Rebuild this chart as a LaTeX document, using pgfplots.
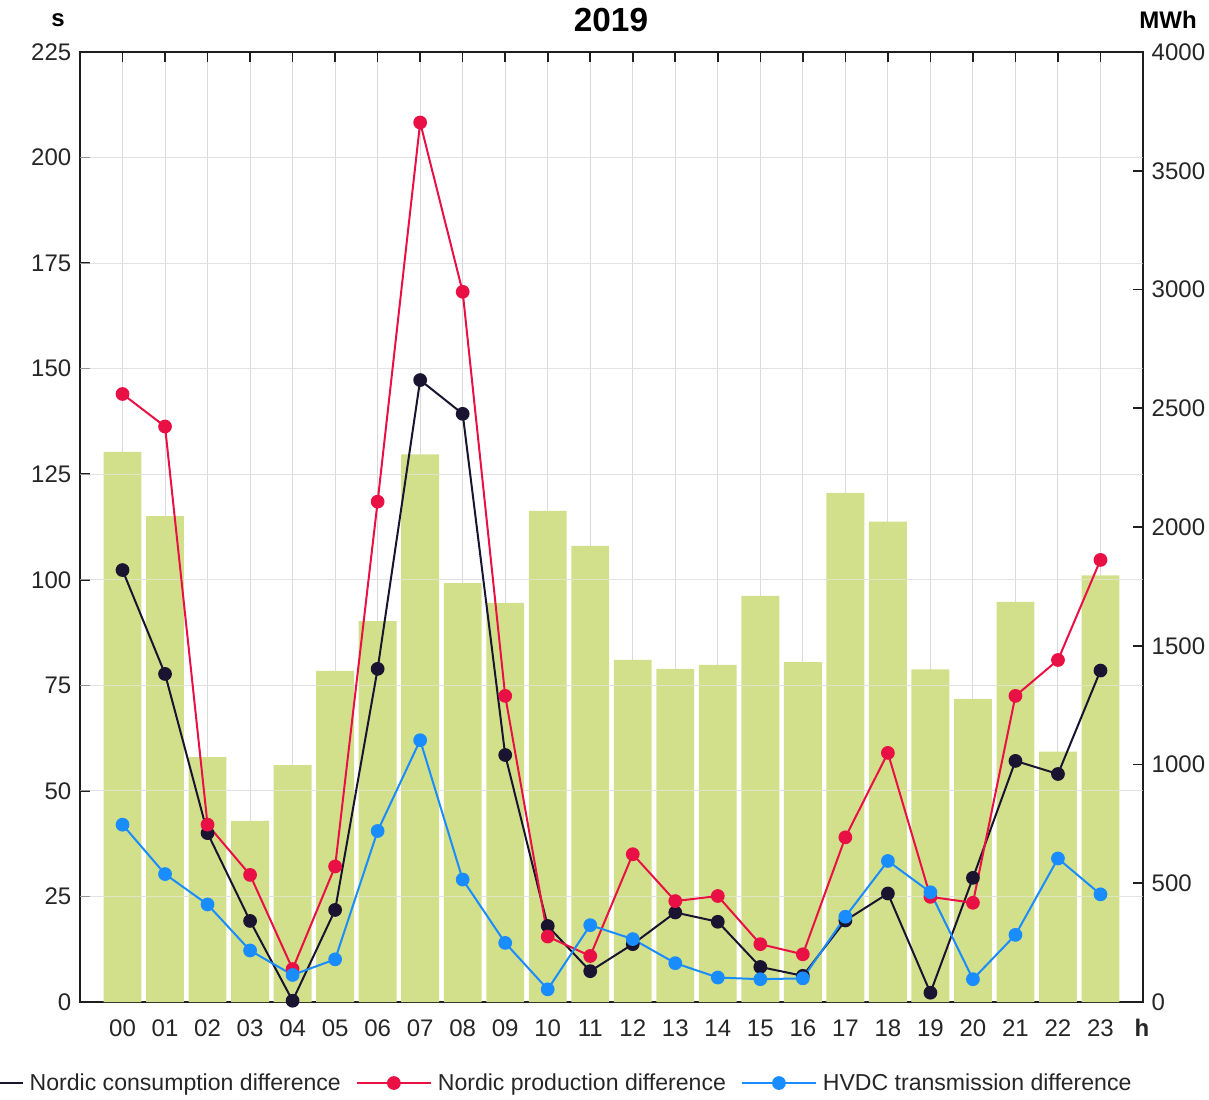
\documentclass[border=0pt]{standalone}
\usepackage{fontspec}
\setmainfont{Liberation Sans}
\usepackage{pgfplots}
\pgfplotsset{compat=1.18}
\definecolor{barc}{RGB}{210,224,140}
\definecolor{cblack}{RGB}{26,20,48}
\definecolor{cred}{RGB}{232,16,68}
\definecolor{cblue}{RGB}{25,140,255}
\definecolor{gridc}{RGB}{218,218,218}
\definecolor{axc}{RGB}{30,30,30}
\begin{document}
\begin{tikzpicture}
\pgfplotsset{
  common/.style={
    width=797.25pt, height=712.5pt, scale only axis,
    at={(0,0)}, anchor=south west,
    xmin=-1, xmax=24,
    /pgf/number format/assume math mode=true,
    /pgf/number format/1000 sep={},
    tick label style={font=\fontsize{18}{20}\selectfont, color=black!85},
    axis line style={line width=1.2pt, axc},
    tick style={line width=1.2pt, axc},
    major tick length=7.5pt,
    tick align=inside,
  }
}
% axis 1: frame, grid, left ticks, x ticks
\begin{axis}[common,
  ymin=0, ymax=225, ytick={0,25,...,225},
  xtick={0,...,23},
  xticklabels={00,01,02,03,04,05,06,07,08,09,10,11,12,13,14,15,16,17,18,19,20,21,22,23},
  xtick pos=both, ytick pos=left,
  xticklabel style={yshift=-10pt},
  yticklabel style={xshift=-3pt},
  grid=major, grid style={gridc, line width=0.75pt},
]
\addplot[draw=none] coordinates {(0,0)};
\end{axis}
% axis 2: bars on the right axis (MWh)
\begin{axis}[common,
  ymin=0, ymax=4000, ytick={0,500,...,4000},
  axis y line*=right, axis x line=none,
  yticklabel style={xshift=3pt},
]
\addplot[ybar, bar width=0.89, bar shift=0pt, fill=barc, draw=none] coordinates {
(0,2316) (1,2046) (2,1031) (3,763) (4,997) (5,1394) (6,1604) (7,2306)
(8,1764) (9,1680) (10,2068) (11,1920) (12,1440) (13,1403) (14,1419) (15,1710)
(16,1431) (17,2144) (18,2023) (19,1401) (20,1276) (21,1685) (22,1054) (23,1796)};
\end{axis}
% axis 3: lines on the left axis (s)
\begin{axis}[common,
  ymin=0, ymax=225, ytick={25,50,...,200}, yticklabels={},
  xtick=\empty,
  axis line style={draw=none}, tick style={draw=none},
  ymajorgrids, grid style={color={rgb,255:red,232;green,232;blue,232}, opacity=0.6, line width=0.75pt},
  clip=false,
  every axis plot/.append style={line width=1.5pt, mark=*, mark size=4.4pt},
  legend image code/.code={\draw[mark repeat=2,mark phase=2,#1] plot coordinates {(0pt,0pt) (28pt,0pt) (56pt,0pt)};},
  legend columns=-1,
  legend style={draw=none, fill=none, inner sep=0pt, column sep=0pt,
    font=\fontsize{17.3}{19}\selectfont, text=black!85,
    at={(rel axis cs:-0.125,-0.0853)}, anchor=west,
    /tikz/every odd column/.append style={column sep=2.25pt},
    /tikz/every even column/.append style={column sep=9pt}},
]
\addplot[cblack, mark options={fill=cblack}] coordinates {
(0,102.3) (1,77.7) (2,40) (3,19.2) (4,0.3) (5,21.8) (6,78.9) (7,147.3)
(8,139.3) (9,58.5) (10,18) (11,7.3) (12,13.7) (13,21.2) (14,19.0) (15,8.3)
(16,6.2) (17,19.3) (18,25.7) (19,2.2) (20,29.4) (21,57.1) (22,54.0) (23,78.5)};
\addlegendentry{Nordic consumption difference}
\addplot[cred, mark options={fill=cred}] coordinates {
(0,144.0) (1,136.3) (2,42) (3,30.1) (4,7.8) (5,32.1) (6,118.5) (7,208.3)
(8,168.2) (9,72.5) (10,15.5) (11,10.9) (12,35.0) (13,23.9) (14,25.1) (15,13.7)
(16,11.3) (17,39.0) (18,59.0) (19,24.9) (20,23.5) (21,72.5) (22,81.0) (23,104.7)};
\addlegendentry{Nordic production difference}
\addplot[cblue, mark options={fill=cblue}] coordinates {
(0,42) (1,30.3) (2,23.1) (3,12.2) (4,6.4) (5,10.1) (6,40.5) (7,62)
(8,29) (9,14) (10,3) (11,18.2) (12,14.9) (13,9.2) (14,5.8) (15,5.4)
(16,5.6) (17,20.2) (18,33.4) (19,26.0) (20,5.4) (21,15.9) (22,34.0) (23,25.5)};
\addlegendentry{HVDC transmission difference}
\end{axis}
\node[font=\bfseries\fontsize{18}{20}\selectfont] at (-16.5pt,736.5pt) {s};
\node[font=\bfseries\fontsize{18}{20}\selectfont] at (816pt,736.5pt) {MWh};
\node[font=\bfseries\fontsize{25}{28}\selectfont] at (398.25pt,736.5pt) {2019};
\node[font=\bfseries\fontsize{18}{20}\selectfont, text=black!85] at (796.5pt,-19.5pt) {h};
\pgfresetboundingbox
\path[use as bounding box] (-60pt,-72.75pt) rectangle (846.75pt,751.5pt);
\end{tikzpicture}
\end{document}
